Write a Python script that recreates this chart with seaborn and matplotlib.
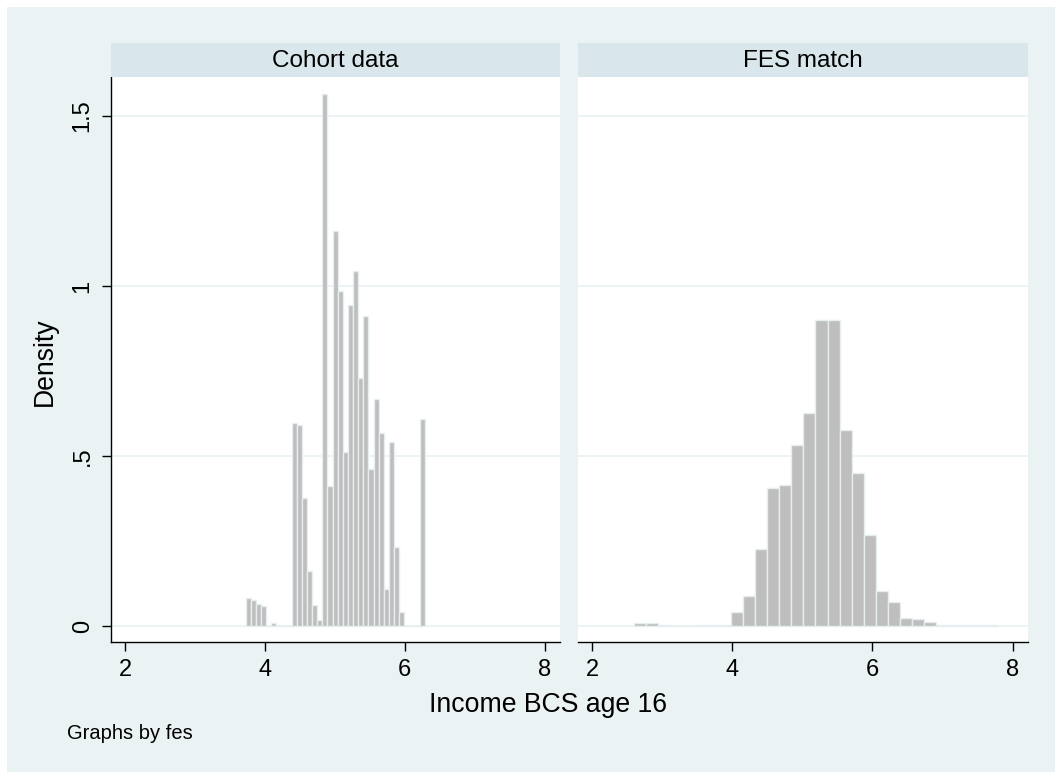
import numpy as np
import pandas as pd
import matplotlib
matplotlib.use("Agg")
import matplotlib.pyplot as plt
from matplotlib.patches import Rectangle
import seaborn as sns

# ---------------- data ----------------
panel_titles = ["Cohort data", "FES match"]

cohort_bin_start = 3.724
cohort_bin_width = 0.0732
cohort_density = [0.082, 0.076, 0.064, 0.058, 0.0, 0.008, 0.002, 0.0, 0.0,
                  0.596, 0.591, 0.377, 0.163, 0.061, 0.017, 1.564, 0.411,
                  1.161, 0.985, 0.513, 0.945, 1.044, 0.730, 0.913, 0.463,
                  0.669, 0.568, 0.110, 0.542, 0.233, 0.042, 0.0, 0.0, 0.0,
                  0.610]

fes_bin_start = 2.60
fes_bin_width = 0.1725
fes_density = [0.010, 0.008, 0.003, 0.0, 0.001, 0.002, 0.002, 0.002,
               0.042, 0.089, 0.228, 0.406, 0.416, 0.533, 0.627, 0.900,
               0.900, 0.577, 0.450, 0.269, 0.103, 0.070, 0.025, 0.020,
               0.011, 0.002, 0.002, 0.002, 0.002, 0.002]

x_ticks = [2, 4, 6, 8]
x_ticklabels = ["2", "4", "6", "8"]
y_ticks = [0, 0.5, 1, 1.5]
y_ticklabels = ["0", ".5", "1", "1.5"]

x_title = "Income BCS age 16"
y_title = "Density"
note = "Graphs by fes"

# ---------------- style ----------------
BG = "#EAF2F3"
STRIP = "#D9E6EB"
BAR = "#BEBEBE"
BAR_EDGE = "#E6EEF0"
GRID = "#EAF2F3"
TICK_FS = 17

sns.set_style("white")
plt.rcParams["font.family"] = ["Liberation Sans", "DejaVu Sans"]

W, H = 1055, 772
fig = plt.figure(figsize=(W / 100, H / 100), dpi=100)
fig.patch.set_facecolor("white")
fig.add_artist(Rectangle((7 / W, 0), 1 - 7 / W, 1 - 7 / H,
                         transform=fig.transFigure, facecolor=BG,
                         edgecolor="none", zorder=-10))


def px_rect(x0, y0, x1, y1):
    return [x0 / W, 1 - y1 / H, (x1 - x0) / W, (y1 - y0) / H]


panels = [
    (cohort_bin_start, cohort_bin_width, cohort_density, 111, 560),
    (fes_bin_start, fes_bin_width, fes_density, 578, 1028),
]

for i, (start, width, dens, x0, x1) in enumerate(panels):
    n = len(dens)
    edges = (start + np.arange(n + 1) * width).tolist()
    centers = start + (np.arange(n) + 0.5) * width
    df = pd.DataFrame({"income": centers, "density": np.asarray(dens, float)})

    ax = fig.add_axes(px_rect(x0, 77, x1, 642))
    ax.set_facecolor("white")
    sns.histplot(data=df, x="income", weights="density", bins=edges,
                 stat="count", ax=ax, color=BAR, edgecolor=BAR_EDGE,
                 linewidth=1.0, alpha=1, zorder=3)
    ax.set_xlim(1.8, 8.22)
    ax.set_ylim(-0.047, 1.615)
    for yv in y_ticks:
        ax.axhline(yv, color=GRID, linewidth=1.3, zorder=1)
    ax.set_xlabel("")
    ax.set_ylabel("")
    for s in ["top", "right"]:
        ax.spines[s].set_visible(False)
    ax.spines["bottom"].set_color("black")
    ax.spines["bottom"].set_linewidth(1.0)
    ax.set_xticks(x_ticks)
    ax.set_xticklabels(x_ticklabels)
    ax.set_yticks(y_ticks)
    ax.tick_params(axis="x", direction="out", length=6.5, width=1.0,
                   color="black", pad=6, bottom=True, labelsize=TICK_FS,
                   labelcolor="black")
    if i == 0:
        ax.spines["left"].set_color("black")
        ax.spines["left"].set_linewidth(1.0)
        ax.set_yticklabels(y_ticklabels, rotation=90, va="center")
        ax.tick_params(axis="y", direction="out", length=6.5, width=1.0,
                       color="black", pad=6, left=True, labelsize=TICK_FS,
                       labelcolor="black")
    else:
        ax.spines["left"].set_visible(False)
        ax.tick_params(axis="y", left=False, labelleft=False)

    # strip header
    fig.add_artist(Rectangle((x0 / W, 1 - 77 / H), (x1 - x0) / W, 34 / H,
                             transform=fig.transFigure, facecolor=STRIP,
                             edgecolor="none"))
    fig.text((x0 + x1) / 2 / W, 1 - 67.3 / H, panel_titles[i],
             ha="center", va="baseline", fontsize=17.5, color="black")

fig.text(548 / W, 1 - 711.7 / H, x_title, ha="center", va="baseline",
         fontsize=19.2, color="black")
fig.text(45 / W, 1 - 362 / H, y_title, ha="center", va="center",
         rotation=90, fontsize=19.2, color="black")
fig.text(67 / W, 1 - 739 / H, note, ha="left", va="baseline",
         fontsize=14.5, color="black")

fig.savefig("out.png", dpi=100, facecolor=fig.get_facecolor())
